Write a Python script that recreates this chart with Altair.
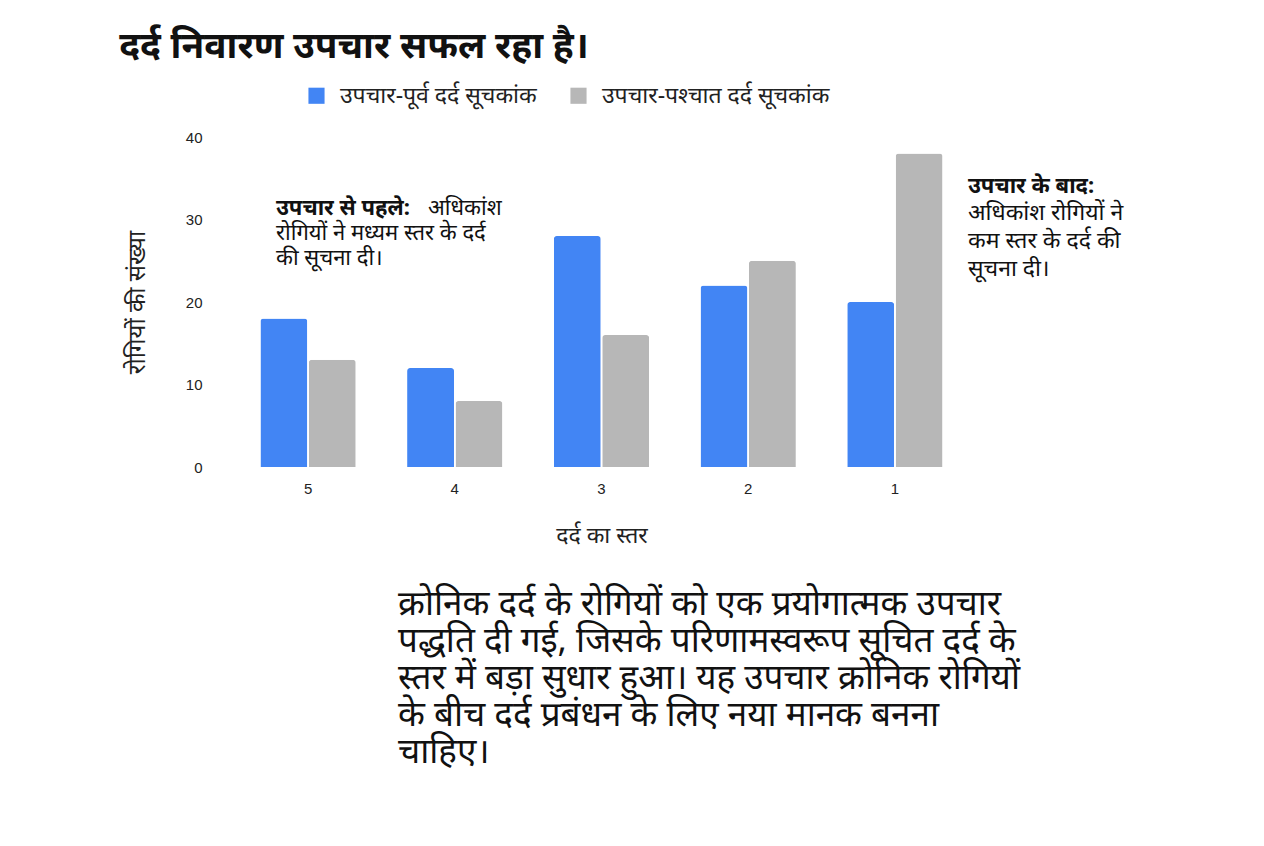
import altair as alt
import pandas as pd

# pain level categories (left to right as drawn)
levels = ["5", "4", "3", "2", "1"]
pre_scores = [18, 12, 28, 22, 20]
post_scores = [13, 8, 16, 25, 38]
series_names = ["उपचार-पूर्व दर्द सूचकांक", "उपचार-पश्चात दर्द सूचकांक"]
series_colors = ["#4285F4", "#B7B7B7"]

title_text = "दर्द निवारण उपचार सफल रहा है।"
y_title = "रोगियों की संख्या"
x_title = "दर्द का स्तर"

before_bold = "उपचार से पहले:"
before_rest = ["अधिकांश", "रोगियों ने मध्यम स्तर के दर्द", "की सूचना दी।"]
after_bold = "उपचार के बाद:"
after_rest = ["अधिकांश रोगियों ने", "कम स्तर के दर्द की", "सूचना दी।"]
summary_lines = [
    "क्रोनिक दर्द के रोगियों को एक प्रयोगात्मक उपचार",
    "पद्धति दी गई, जिसके परिणामस्वरूप सूचित दर्द के",
    "स्तर में बड़ा सुधार हुआ। यह उपचार क्रोनिक रोगियों",
    "के बीच दर्द प्रबंधन के लिए नया मानक बनना",
    "चाहिए।",
]

FONT = "Noto Sans"

df = pd.DataFrame({
    "level": levels * 2,
    "count": pre_scores + post_scores,
    "series": [series_names[0]] * len(levels) + [series_names[1]] * len(levels),
})

bars = alt.Chart(df).mark_bar(cornerRadiusTopLeft=3, cornerRadiusTopRight=3).encode(
    x=alt.X("level:N", sort=levels, title=x_title,
            scale=alt.Scale(paddingInner=0.35, paddingOuter=0.18),
            axis=alt.Axis(labelAngle=0, domain=False, ticks=False, labelFont="Liberation Sans",
                          labelFontSize=15, labelColor="#222", labelPadding=14,
                          titleFont=FONT, titleFontSize=23, titleFontWeight="normal",
                          titleColor="#222", titlePadding=28)),
    xOffset=alt.XOffset("series:N", sort=series_names, scale=alt.Scale(paddingInner=0.03)),
    y=alt.Y("count:Q", title=y_title, scale=alt.Scale(domain=[0, 40]),
            axis=alt.Axis(values=[0, 10, 20, 30, 40], grid=False, domain=False, ticks=False,
                          labelFont="Liberation Sans", labelFontSize=15, labelColor="#222",
                          labelPadding=32, titleFont=FONT, titleFontSize=24,
                          titleFontWeight="normal", titleColor="#222", titlePadding=36)),
    color=alt.Color("series:N", sort=series_names,
                    scale=alt.Scale(domain=series_names, range=series_colors),
                    legend=alt.Legend(orient="none", legendX=71, legendY=-53, direction="horizontal",
                                      title=None, symbolType="square", symbolSize=260,
                                      symbolStrokeWidth=0, labelFont=FONT, labelFontSize=23,
                                      labelColor="#222", labelOffset=12, labelLimit=0,
                                      columnPadding=30)),
)


def text_layer(lines, x, y, size, weight="normal", line_height=None):
    props = dict(align="left", baseline="middle", font=FONT, fontSize=size,
                 fontWeight=weight, color="#111")
    if line_height:
        props["lineHeight"] = line_height
    return alt.Chart(pd.DataFrame({"t": [lines]})).mark_text(**props).encode(
        text="t:N", x=alt.value(x), y=alt.value(y))


layers = [
    bars,
    text_layer(before_bold, 42, 71, 22, "bold"),
    text_layer(before_rest[0], 194, 71, 22),
    text_layer(before_rest[1:], 42, 96, 22, line_height=25),
    text_layer(after_bold, 734, 49, 22, "bold"),
    text_layer(after_rest, 734, 76, 23, line_height=28),
    text_layer(summary_lines, 164, 467, 35, line_height=37),
]

chart = alt.layer(*layers).properties(
    width=735,
    height=330,
    background="white",
    autosize=alt.AutoSizeParams(type="none"),
    padding={"left": 226, "top": 129, "right": 287, "bottom": 371},
    title=alt.TitleParams(title_text, anchor="start", font=FONT, fontSize=37, fontWeight="bold",
                          color="#111", dx=-6, offset=18),
).configure_view(strokeWidth=0)

chart.save("out.html", embed_options={"renderer": "svg", "actions": False})
